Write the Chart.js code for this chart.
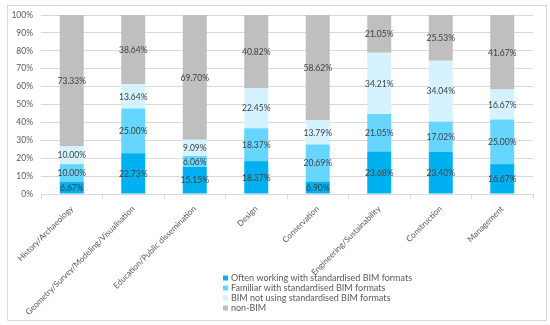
<!DOCTYPE html>
<html><head><meta charset="utf-8">
<script src="https://cdn.jsdelivr.net/npm/chart.js@4"></script>
<style>
html,body{margin:0;padding:0;background:#fff;}
#wrap{position:relative;width:550px;height:325px;}
#frame{position:absolute;left:7px;top:5px;width:538px;height:314px;border:1px solid #D9D9D9;pointer-events:none;}
canvas{position:absolute;left:0;top:0;}
</style></head>
<body>
<div id="wrap"><canvas id="c" width="550" height="325"></canvas><div id="frame"></div></div>
<script>
const categories = ["History/Archaeology","Geometry/Survey/Modeling/Visualisation","Education/Public dissemination","Design","Conservation","Engineering/Sustainability","Construction","Management"];
const seriesNames = ["Often working with standardised BIM formats","Familiar with standardised BIM formats","BIM not using standardised BIM formats","non-BIM"];
const oftenWorking = [6.67, 22.73, 15.15, 18.37, 6.90, 23.68, 23.40, 16.67];
const familiar = [10.00, 25.00, 6.06, 18.37, 20.69, 21.05, 17.02, 25.00];
const bimNotUsing = [10.00, 13.64, 9.09, 22.45, 13.79, 34.21, 34.04, 16.67];
const nonBim = [73.33, 38.64, 69.70, 40.82, 58.62, 21.05, 25.53, 41.67];
const yTicks = [0,10,20,30,40,50,60,70,80,90,100];
const colors = ["#00B0F0","#66D6FF","#D5F3FF","#BFBFBF"];

const FONT = "Lato, 'Open Sans', sans-serif";

const labelPlugin = {
  id: 'segLabels',
  afterDatasetsDraw(chart){
    const ctx = chart.ctx;
    ctx.save();
    ctx.font = "8.5px " + FONT;
    ctx.fillStyle = "#404040";
    ctx.textAlign = "center";
    ctx.textBaseline = "middle";
    chart.data.datasets.forEach((ds, i) => {
      const meta = chart.getDatasetMeta(i);
      meta.data.forEach((el, j) => {
        const v = ds.data[j];
        const y = (el.y + el.base) / 2;
        ctx.fillText(v.toFixed(2) + "%", el.x, y + 0.5);
      });
    });
    ctx.restore();
  }
};

const legendPlugin = {
  id: 'customLegend',
  afterDraw(chart){
    const ctx = chart.ctx;
    ctx.save();
    ctx.font = "9px " + FONT;
    ctx.textAlign = "left";
    ctx.textBaseline = "middle";
    const x0 = 223, y0 = 278, step = 10;
    chart.data.datasets.forEach((ds, i) => {
      const y = y0 + i * step;
      ctx.fillStyle = ds.backgroundColor;
      ctx.fillRect(x0, y - 2.5, 5, 5);
      ctx.fillStyle = "#595959";
      ctx.fillText(ds.label, x0 + 8, y + 0.5);
    });
    ctx.restore();
  }
};

const datasets = [oftenWorking, familiar, bimNotUsing, nonBim].map((d, i) => ({
  label: seriesNames[i],
  data: d,
  backgroundColor: colors[i],
  borderWidth: 0,
  categoryPercentage: 1,
  barPercentage: 0.39
}));

new Chart(document.getElementById('c'), {
  type: 'bar',
  data: { labels: categories, datasets },
  options: {
    responsive: false,
    animation: false,
    devicePixelRatio: 1,
    layout: { padding: { left: 8, right: 17, top: 15, bottom: 0 } },
    plugins: { legend: { display: false }, tooltip: { enabled: false } },
    scales: {
      x: {
        stacked: true,
        grid: { offset: true, drawOnChartArea: false, drawTicks: true, tickLength: 5, color: "#D9D9D9" },
        border: { display: true, color: "#D9D9D9" },
        ticks: { color: "#595959", font: { family: FONT, size: 8.2 }, minRotation: 45, maxRotation: 45, autoSkip: false, padding: 5 },
        afterFit(scale){ scale.height = 131; }
      },
      y: {
        stacked: true,
        min: 0, max: 100,
        afterBuildTicks(scale){ scale.ticks = yTicks.map(v => ({ value: v })); },
        grid: { color: "#D9D9D9", drawTicks: false },
        border: { display: false },
        ticks: { color: "#595959", font: { family: FONT, size: 8.5 }, padding: 8, callback: v => v + "%" },
        afterFit(scale){ scale.width = 33; }
      }
    }
  },
  plugins: [labelPlugin, legendPlugin]
});
</script>
</body></html>
